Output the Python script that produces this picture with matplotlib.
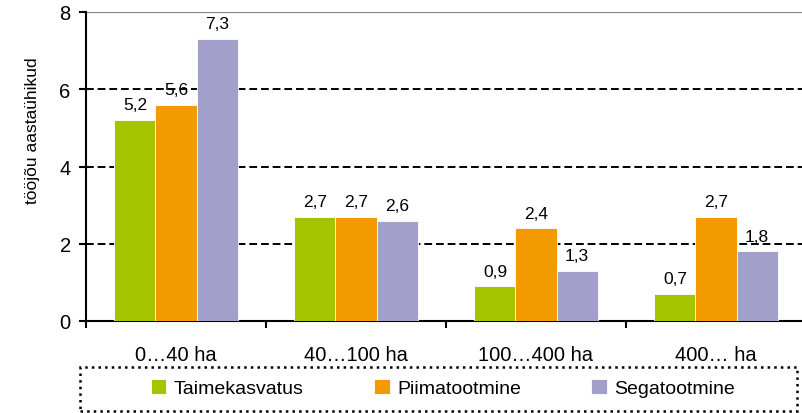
import matplotlib
matplotlib.use('Agg')
import matplotlib.pyplot as plt
from matplotlib.patches import Rectangle
import numpy as np

categories = ['0…40 ha', '40…100 ha', '100…400 ha', '400… ha']
series_names = ['Taimekasvatus', 'Piimatootmine', 'Segatootmine']
taimekasvatus = [5.2, 2.7, 0.9, 0.7]
piimatootmine = [5.6, 2.7, 2.4, 2.7]
segatootmine = [7.3, 2.6, 1.3, 1.8]
value_labels = [
    ['5,2', '2,7', '0,9', '0,7'],
    ['5,6', '2,7', '2,4', '2,7'],
    ['7,3', '2,6', '1,3', '1,8'],
]
colors = ['#a5c400', '#f39a00', '#a29fca']

plt.rcParams['font.family'] = ['Liberation Sans', 'DejaVu Sans']

fig = plt.figure(figsize=(8.03, 4.14), dpi=100)
ax = fig.add_axes([86 / 803, 1 - 322 / 414, 720 / 803, 309 / 414])

x = np.arange(len(categories))
width = 0.228
series = [taimekasvatus, piimatootmine, segatootmine]
handles = []
for i, vals in enumerate(series):
    pos = x + (i - 1) * width
    b = ax.bar(pos, vals, width, color=colors[i], edgecolor='white', linewidth=0.6,
               label=series_names[i], zorder=3)
    handles.append(b)
    for p, v, lab in zip(pos, vals, value_labels[i]):
        ax.text(p, v + 0.2, lab, ha='center', va='bottom', fontsize=12.5)

ax.set_xlim(-0.5, 3.5)
ax.set_ylim(0, 8)
ax.set_yticks([0, 2, 4, 6, 8])
ax.tick_params(axis='y', labelsize=14.5, length=5, direction='out', pad=6)
# ruudustik: katkendjooned, ülemine hall
for yv in [2, 4, 6]:
    ax.axhline(yv, color='black', linestyle=(0, (4, 2)), linewidth=1.4, zorder=1)
ax.axhline(8, color='#888888', linestyle='-', linewidth=1.6, zorder=1)

ax.set_xticks(np.arange(-0.5, 4.0, 1.0), minor=False)
ax.set_xticklabels([])
ax.set_xticks(x, minor=True)
ax.set_xticklabels(categories, minor=True, fontsize=14.5)
ax.tick_params(axis='x', which='major', length=5, direction='out', width=1.5)
ax.tick_params(axis='x', which='minor', length=0, pad=17)
ax.tick_params(axis='y', width=1.5)

ax.spines['top'].set_visible(False)
ax.spines['right'].set_visible(False)
ax.spines['left'].set_linewidth(1.5)
ax.spines['bottom'].set_linewidth(1.5)

ax.set_ylabel('tööjõu aastaühikud', fontsize=12.5)
ax.yaxis.set_label_coords(-46 / 720, 0.62)

leg = fig.legend(handles=handles, loc='center', bbox_to_anchor=(443 / 803, 1 - 389 / 414),
                 ncol=3, fontsize=14, frameon=False,
                 handlelength=0.8, handleheight=0.8, columnspacing=3.6, handletextpad=0.4)

fig.patches.append(Rectangle((80 / 803, 1 - 412 / 414), 717 / 803, 44 / 414,
                             transform=fig.transFigure, fill=False, edgecolor='black',
                             linestyle=':', linewidth=1.8))

fig.savefig('out.png', dpi=100)
